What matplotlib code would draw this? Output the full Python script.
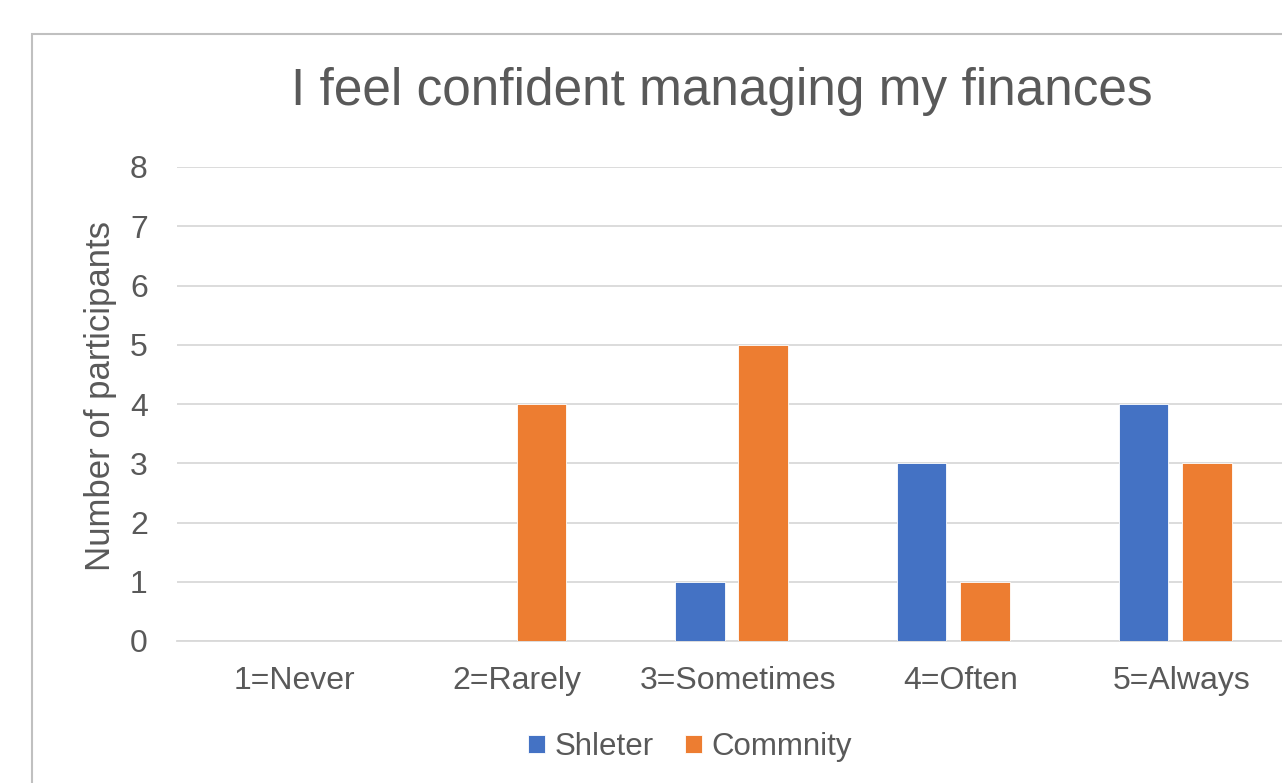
import numpy as np
import matplotlib.pyplot as plt
from matplotlib.patches import Rectangle
from matplotlib.transforms import ScaledTranslation

# survey answers per group
categories = ['1=Never', '2=Rarely', '3=Sometimes', '4=Often', '5=Always']
shelter = [0, 0, 1, 3, 4]
community = [0, 4, 5, 1, 3]
series_names = ['Shleter', 'Commnity']
title = 'I feel confident managing my finances'
y_label = 'Number of participants'

plt.rcParams['font.family'] = ['Liberation Sans', 'DejaVu Sans']
txt = '#595959'

fig = plt.figure(figsize=(12.82, 7.83), dpi=100)
# chart border (cut off on the right and bottom)
fig.patches.append(Rectangle((32 / 1282, -0.05), 1.2, 1 - 34 / 783 + 0.05,
                             transform=fig.transFigure, fill=False,
                             edgecolor='#c0c0c0', linewidth=1.5))

ax = fig.add_axes([177 / 1282, 1 - 641 / 783, 1109 / 1282, (641 - 167) / 783])
x = np.arange(len(categories))
w = 0.223
gap = 0.063
off = (w + gap) / 2
ax.bar(x - off, shelter, w, color='#4472C4', edgecolor='white', linewidth=0.6,
       label=series_names[0], zorder=3)
ax.bar(x + off, community, w, color='#ED7D31', edgecolor='white', linewidth=0.6,
       label=series_names[1], zorder=3)

ax.set_xlim(-0.5, 4.5)
ax.set_ylim(0, 8)
ax.set_yticks(range(0, 9))
ax.set_xticks(x)
ax.set_xticklabels(categories)
ax.tick_params(axis='both', length=0, labelsize=23, labelcolor=txt)
ax.tick_params(axis='y', pad=21)
ax.tick_params(axis='x', pad=18)
# excel puts the category labels a touch right of the bar pair
shift = ScaledTranslation(0.07, 0, fig.dpi_scale_trans)
for lab in ax.get_xticklabels():
    lab.set_transform(lab.get_transform() + shift)
ax.grid(axis='y', color='#d9d9d9', linewidth=1.3, zorder=0)
for s in ['top', 'right', 'left']:
    ax.spines[s].set_visible(False)
ax.spines['bottom'].set_color('#d9d9d9')
ax.spines['bottom'].set_linewidth(1.3)

ax.set_ylabel(y_label, fontsize=25, color=txt)
ax.yaxis.set_label_coords(-0.054, 0.517)
fig.text(722 / 1282, 1 - 92 / 783, title, ha='center', va='center',
         fontsize=37, color=txt)

ax.legend(loc='center', bbox_to_anchor=(690 / 1282, 1 - 747 / 783),
          bbox_transform=fig.transFigure, ncol=2, frameon=False,
          fontsize=22.5, labelcolor=txt, handlelength=0.55, handleheight=0.55,
          handletextpad=0.3, columnspacing=1.0)

fig.savefig('out.png', dpi=100)
